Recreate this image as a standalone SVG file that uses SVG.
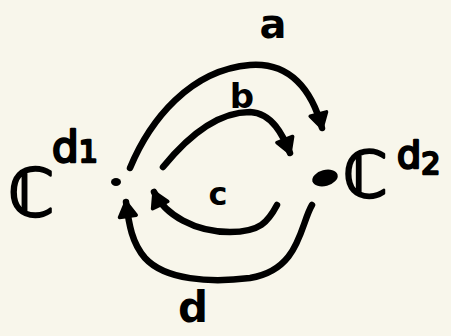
<svg xmlns="http://www.w3.org/2000/svg" width="451" height="336" viewBox="0 0 451 336">
<defs>
<style>
.edge{fill:none;stroke:#000;stroke-width:6.5;stroke-linecap:round;stroke-linejoin:round}
.lbl{font-family:"DejaVu Sans",sans-serif;font-weight:bold;fill:#000}
.big{font-family:"DejaVu Sans",sans-serif;fill:#000;stroke:#000;stroke-width:2.5;stroke-linejoin:round}
</style>
<marker id="ah" markerUnits="userSpaceOnUse" markerWidth="24" markerHeight="24" viewBox="0 0 20 20" refX="14" refY="10" orient="auto">
<path d="M2,3 L14,10 L2,17 z" fill="#000" stroke="#000" stroke-width="3" stroke-linejoin="round"/>
</marker>
</defs>
<rect width="451" height="336" fill="#F8F6EB"/>
<g id="node-left">
<text class="big" x="8" y="216" font-size="66">ℂ</text>
<text class="big" x="52" y="162" font-size="42">d<tspan font-size="30">1</tspan></text>
<ellipse cx="116" cy="182" rx="5" ry="4" fill="#000"/>
</g>
<g id="node-right">
<ellipse cx="325" cy="178" rx="13" ry="8" transform="rotate(-15 325 178)" fill="#000"/>
<text class="big" x="343" y="197" font-size="64">ℂ</text>
<text class="big" x="397" y="168" font-size="38">d<tspan font-size="30" dy="6">2</tspan></text>
</g>
<g id="connectors">
<path class="edge" marker-end="url(#ah)" d="M130,168 C150,120 190,70 250,65 C290,62 312,90 322,128"/>
<path class="edge" marker-end="url(#ah)" d="M163,167 C185,140 215,112 250,112 C272,113 283,135 290,153"/>
<path class="edge" marker-end="url(#ah)" d="M277,205 C268,222 260,232 230,232 C195,232 165,215 154,192"/>
<path class="edge" marker-end="url(#ah)" d="M312,205 C300,225 300,270 250,278 C210,283 165,280 145,258 C132,243 129,225 126,202"/>
<text class="lbl" x="273" y="38" font-size="40" text-anchor="middle">a</text>
<text class="lbl" x="242" y="108" font-size="34" text-anchor="middle">b</text>
<text class="lbl" x="218" y="205" font-size="32" text-anchor="middle">c</text>
<text class="lbl" x="193" y="322" font-size="42" text-anchor="middle">d</text>
</g>
</svg>
